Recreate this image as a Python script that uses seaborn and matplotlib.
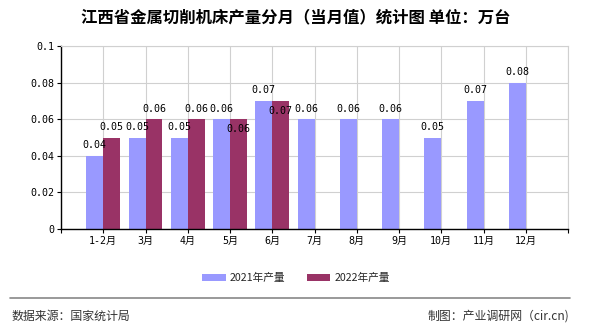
import matplotlib
matplotlib.use("Agg")
import matplotlib.pyplot as plt
import seaborn as sns
import pandas as pd
import numpy as np

months = ["1-2月", "3月", "4月", "5月", "6月", "7月", "8月", "9月", "10月", "11月", "12月"]
prod_2021 = [0.04, 0.05, 0.05, 0.06, 0.07, 0.06, 0.06, 0.06, 0.05, 0.07, 0.08]
prod_2022 = [0.05, 0.06, 0.06, 0.06, 0.07]
series = ["2021年产量", "2022年产量"]
yticks = [0, 0.02, 0.04, 0.06, 0.08, 0.1]
ytick_labels = ["0", "0.02", "0.04", "0.06", "0.08", "0.1"]

colors = ["#9999FF", "#993366"]

rows = []
for m, v in zip(months, prod_2021):
    rows.append({"month": m, "series": series[0], "value": v})
for m, v in zip(months, prod_2022):
    rows.append({"month": m, "series": series[1], "value": v})
df = pd.DataFrame(rows)

sns.set_theme(style="white")
plt.rcParams["font.family"] = ["Noto Sans CJK SC", "DejaVu Sans"]
MONO = ["DejaVu Sans Mono", "Noto Sans CJK SC"]

fig = plt.figure(figsize=(5.9, 3.3), dpi=100)
ax = fig.add_axes([61/590, 1-229/330, (568-61)/590, (229-46)/330])

sns.barplot(data=df, x="month", y="value", hue="series", order=months,
            hue_order=series, palette=colors, width=0.8, saturation=1,
            ax=ax, legend=True, linewidth=0)

ax.set_xlim(-1, len(months))
ax.set_ylim(0, 0.1)
ax.set_xticks(range(-1, len(months) + 1))
ax.set_xticklabels([""] + months + [""], fontfamily=MONO, fontsize=7.2, color="black")
ax.set_yticks(yticks)
ax.set_yticklabels(ytick_labels, fontfamily=MONO, fontsize=7.2, color="black")
ax.set_xlabel("")
ax.set_ylabel("")
ax.grid(True, color="#d0d0d0", linewidth=0.8)
ax.set_axisbelow(True)
for s in ["top", "right"]:
    ax.spines[s].set_color("#d0d0d0")
    ax.spines[s].set_linewidth(0.8)
for s in ["left", "bottom"]:
    ax.spines[s].set_color("black")
    ax.spines[s].set_linewidth(1.0)
ax.tick_params(axis="both", which="major", direction="out", length=3, width=0.8,
               color="black", pad=2, left=True, bottom=True)

# value labels
offsets_2022 = [4, 4, 4, -11, -11]
for ci, cont in enumerate(ax.containers):
    vals = prod_2021 if ci == 0 else prod_2022
    for j, patch in enumerate(cont.patches):
        if j >= len(vals):
            continue
        h = patch.get_height()
        if np.isnan(h):
            continue
        off = 4 if ci == 0 else offsets_2022[j]
        ax.annotate(f"{vals[j]:g}", (patch.get_x() + patch.get_width()/2, h),
                    xytext=(0, off), textcoords="offset points",
                    ha="center", va="bottom", fontsize=7.2, fontfamily=MONO,
                    color="black")

leg = ax.legend(loc="center", bbox_to_anchor=(296/590, 1-278/330),
                bbox_transform=fig.transFigure, ncol=2, frameon=False,
                fontsize=7.7, handlelength=2.2, handleheight=0.6,
                columnspacing=2.0, handletextpad=0.4)

fig.text(296/590, 1-17/330, "江西省金属切削机床产量分月（当月值）统计图 单位：万台",
         ha="center", va="center", fontsize=11.8, fontweight="bold", color="black")

fig.add_artist(plt.Line2D([10/590, 570/590], [1-298/330, 1-298/330],
                          transform=fig.transFigure, color="#888888", linewidth=1.2))
fig.text(12/590, 1-316/330, "数据来源：国家统计局", ha="left", va="center",
         fontsize=8.6, color="#333333")
fig.text(569/590, 1-316/330, "制图：产业调研网（cir.cn)", ha="right", va="center",
         fontsize=8.6, color="#333333")

fig.savefig("out.png", dpi=100)
